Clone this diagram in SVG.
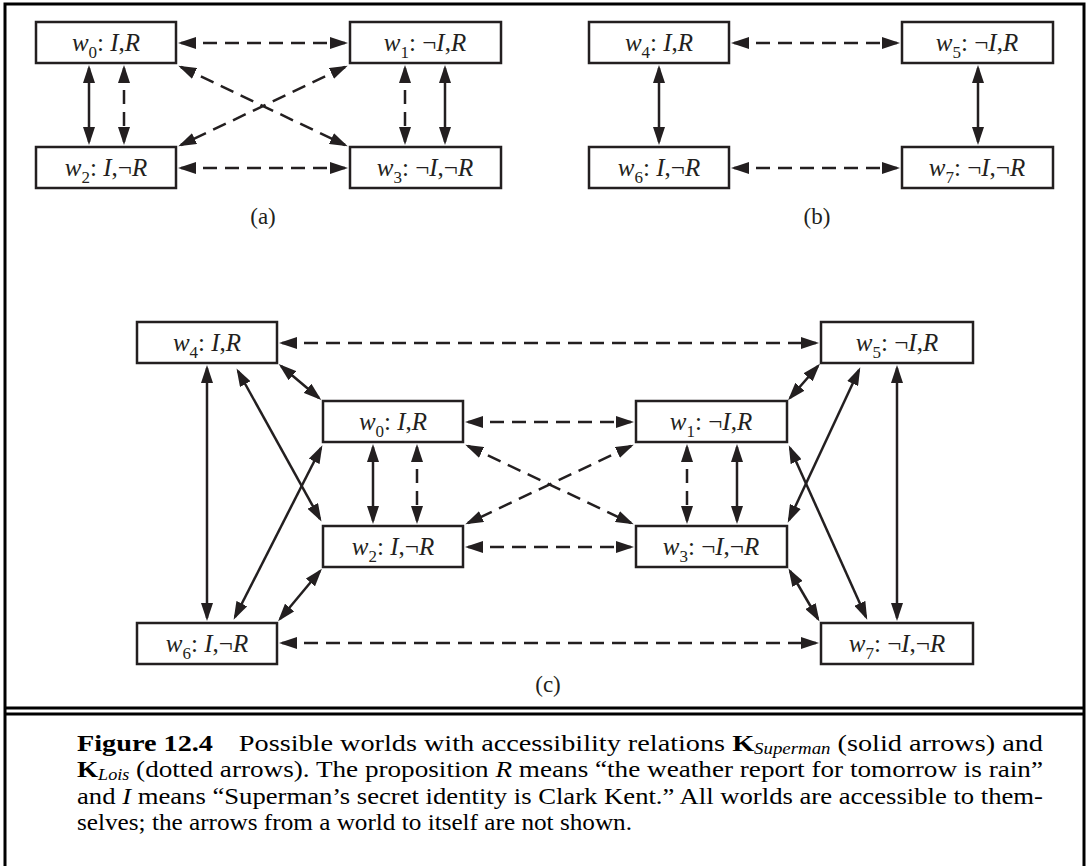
<svg xmlns="http://www.w3.org/2000/svg" width="1089" height="866" viewBox="0 0 1089 866">
<defs>
<marker id="ah" viewBox="0 0 18 12" markerUnits="userSpaceOnUse" markerWidth="18" markerHeight="12" refX="15" refY="6" orient="auto-start-reverse">
<path d="M0,0 L18,6 L0,12 z" fill="#231f20"/>
</marker>
<style>
.box{fill:#fff;stroke:#231f20;stroke-width:2.5}
.lbl{font-family:"Liberation Serif","Times New Roman",serif;font-size:25px;fill:#231f20;text-anchor:middle}
.it{font-style:italic}
.sub{font-size:17px}
.s{stroke:#231f20;stroke-width:2.5;fill:none;marker-start:url(#ah);marker-end:url(#ah)}
.d{stroke:#231f20;stroke-width:2.5;fill:none;stroke-dasharray:14 8;marker-start:url(#ah);marker-end:url(#ah)}
.cap{font-family:"Liberation Serif","Times New Roman",serif;font-size:24px;fill:#000}
.pl{font-family:"Liberation Serif","Times New Roman",serif;font-size:23px;fill:#231f20;text-anchor:middle}
.frame{fill:none;stroke:#000;stroke-width:3}
</style>
</defs>
<rect width="1089" height="866" fill="#fff"/>
<g id="frame">
<rect class="frame" x="5" y="4" width="1079" height="870"/>
<line class="frame" x1="5" y1="708" x2="1084" y2="708"/>
<line class="frame" x1="5" y1="714" x2="1084" y2="714"/>
</g>

<g id="connectors">
<!-- panel a -->
<line class="d" x1="181" y1="43" x2="345" y2="43"/>
<line class="d" x1="181" y1="168" x2="345" y2="168"/>
<line class="s" x1="89" y1="68" x2="89" y2="142"/>
<line class="d" x1="124" y1="68" x2="124" y2="142"/>
<line class="d" x1="405" y1="68" x2="405" y2="142"/>
<line class="s" x1="445" y1="68" x2="445" y2="142"/>
<line class="d" x1="181" y1="67" x2="345" y2="145"/>
<line class="d" x1="345" y1="67" x2="181" y2="145"/>
<!-- panel b -->
<line class="d" x1="734" y1="43" x2="897" y2="43"/>
<line class="d" x1="734" y1="168" x2="897" y2="168"/>
<line class="s" x1="659" y1="68" x2="659" y2="142"/>
<line class="s" x1="978" y1="68" x2="978" y2="142"/>
<!-- panel c -->
<line class="d" x1="282" y1="343" x2="816" y2="343"/>
<line class="d" x1="468" y1="422" x2="631" y2="422"/>
<line class="d" x1="468" y1="547" x2="631" y2="547"/>
<line class="d" x1="282" y1="643" x2="816" y2="643"/>
<line class="s" x1="207" y1="368" x2="207" y2="618"/>
<line class="s" x1="897" y1="368" x2="897" y2="618"/>
<line class="s" x1="373" y1="447" x2="373" y2="521"/>
<line class="d" x1="417" y1="447" x2="417" y2="521"/>
<line class="d" x1="687" y1="447" x2="687" y2="521"/>
<line class="s" x1="737" y1="447" x2="737" y2="521"/>
<line class="d" x1="468" y1="446" x2="631" y2="523"/>
<line class="d" x1="631" y1="446" x2="468" y2="523"/>
<line class="s" x1="281" y1="366" x2="319" y2="398"/>
<line class="s" x1="790" y1="398" x2="818" y2="366"/>
<line class="s" x1="320" y1="571" x2="280" y2="619"/>
<line class="s" x1="790" y1="571" x2="818" y2="619"/>
<line class="s" x1="238" y1="371" x2="320" y2="519"/>
<line class="s" x1="321" y1="448" x2="235" y2="617"/>
<line class="s" x1="859" y1="370" x2="789" y2="520"/>
<line class="s" x1="790" y1="448" x2="866" y2="617"/>
</g>

<g id="w0a"><rect class="box" x="36" y="22" width="140" height="41"/>
<text class="lbl" x="106" y="51"><tspan class="it">w</tspan><tspan class="sub" dy="7">0</tspan><tspan dy="-7">: </tspan><tspan class="it">I</tspan>,<tspan class="it">R</tspan></text></g>
<g id="w1a"><rect class="box" x="350" y="22" width="151" height="41"/>
<text class="lbl" x="425" y="51"><tspan class="it">w</tspan><tspan class="sub" dy="7">1</tspan><tspan dy="-7">: ¬</tspan><tspan class="it">I</tspan>,<tspan class="it">R</tspan></text></g>
<g id="w2a"><rect class="box" x="36" y="147" width="140" height="41"/>
<text class="lbl" x="106" y="176"><tspan class="it">w</tspan><tspan class="sub" dy="7">2</tspan><tspan dy="-7">: </tspan><tspan class="it">I</tspan>,¬<tspan class="it">R</tspan></text></g>
<g id="w3a"><rect class="box" x="350" y="147" width="151" height="41"/>
<text class="lbl" x="425" y="176"><tspan class="it">w</tspan><tspan class="sub" dy="7">3</tspan><tspan dy="-7">: ¬</tspan><tspan class="it">I</tspan>,¬<tspan class="it">R</tspan></text></g>
<text class="pl" x="263" y="224">(a)</text>

<g id="w4b"><rect class="box" x="589" y="22" width="140" height="41"/>
<text class="lbl" x="659" y="51"><tspan class="it">w</tspan><tspan class="sub" dy="7">4</tspan><tspan dy="-7">: </tspan><tspan class="it">I</tspan>,<tspan class="it">R</tspan></text></g>
<g id="w5b"><rect class="box" x="902" y="22" width="151" height="41"/>
<text class="lbl" x="977" y="51"><tspan class="it">w</tspan><tspan class="sub" dy="7">5</tspan><tspan dy="-7">: ¬</tspan><tspan class="it">I</tspan>,<tspan class="it">R</tspan></text></g>
<g id="w6b"><rect class="box" x="589" y="147" width="140" height="41"/>
<text class="lbl" x="659" y="176"><tspan class="it">w</tspan><tspan class="sub" dy="7">6</tspan><tspan dy="-7">: </tspan><tspan class="it">I</tspan>,¬<tspan class="it">R</tspan></text></g>
<g id="w7b"><rect class="box" x="902" y="147" width="151" height="41"/>
<text class="lbl" x="977" y="176"><tspan class="it">w</tspan><tspan class="sub" dy="7">7</tspan><tspan dy="-7">: ¬</tspan><tspan class="it">I</tspan>,¬<tspan class="it">R</tspan></text></g>
<text class="pl" x="817" y="224">(b)</text>

<g id="w4c"><rect class="box" x="137" y="322" width="140" height="41"/>
<text class="lbl" x="207" y="351"><tspan class="it">w</tspan><tspan class="sub" dy="7">4</tspan><tspan dy="-7">: </tspan><tspan class="it">I</tspan>,<tspan class="it">R</tspan></text></g>
<g id="w5c"><rect class="box" x="821" y="322" width="152" height="41"/>
<text class="lbl" x="897" y="351"><tspan class="it">w</tspan><tspan class="sub" dy="7">5</tspan><tspan dy="-7">: ¬</tspan><tspan class="it">I</tspan>,<tspan class="it">R</tspan></text></g>
<g id="w0c"><rect class="box" x="323" y="401" width="140" height="41"/>
<text class="lbl" x="393" y="430"><tspan class="it">w</tspan><tspan class="sub" dy="7">0</tspan><tspan dy="-7">: </tspan><tspan class="it">I</tspan>,<tspan class="it">R</tspan></text></g>
<g id="w1c"><rect class="box" x="636" y="401" width="151" height="41"/>
<text class="lbl" x="711" y="430"><tspan class="it">w</tspan><tspan class="sub" dy="7">1</tspan><tspan dy="-7">: ¬</tspan><tspan class="it">I</tspan>,<tspan class="it">R</tspan></text></g>
<g id="w2c"><rect class="box" x="323" y="526" width="140" height="41"/>
<text class="lbl" x="393" y="555"><tspan class="it">w</tspan><tspan class="sub" dy="7">2</tspan><tspan dy="-7">: </tspan><tspan class="it">I</tspan>,¬<tspan class="it">R</tspan></text></g>
<g id="w3c"><rect class="box" x="636" y="526" width="151" height="41"/>
<text class="lbl" x="711" y="555"><tspan class="it">w</tspan><tspan class="sub" dy="7">3</tspan><tspan dy="-7">: ¬</tspan><tspan class="it">I</tspan>,¬<tspan class="it">R</tspan></text></g>
<g id="w6c"><rect class="box" x="137" y="623" width="140" height="41"/>
<text class="lbl" x="207" y="652"><tspan class="it">w</tspan><tspan class="sub" dy="7">6</tspan><tspan dy="-7">: </tspan><tspan class="it">I</tspan>,¬<tspan class="it">R</tspan></text></g>
<g id="w7c"><rect class="box" x="821" y="623" width="152" height="41"/>
<text class="lbl" x="897" y="652"><tspan class="it">w</tspan><tspan class="sub" dy="7">7</tspan><tspan dy="-7">: ¬</tspan><tspan class="it">I</tspan>,¬<tspan class="it">R</tspan></text></g>
<text class="pl" x="548" y="692">(c)</text>

<g id="caption">
<text class="cap" x="77" y="751" textLength="966" lengthAdjust="spacingAndGlyphs"><tspan font-weight="bold">Figure 12.4</tspan><tspan dx="22">Possible worlds with accessibility relations </tspan><tspan font-weight="bold">K</tspan><tspan class="it" font-size="16" dy="3">Superman</tspan><tspan dy="-3"> (solid arrows) and</tspan></text>
<text class="cap" x="77" y="777" textLength="966" lengthAdjust="spacingAndGlyphs"><tspan font-weight="bold">K</tspan><tspan class="it" font-size="16" dy="3">Lois</tspan><tspan dy="-3"> (dotted arrows). The proposition </tspan><tspan class="it">R</tspan> means “the weather report for tomorrow is rain”</text>
<text class="cap" x="77" y="804" textLength="966" lengthAdjust="spacingAndGlyphs">and <tspan class="it">I</tspan> means “Superman’s secret identity is Clark Kent.” All worlds are accessible to them-</text>
<text class="cap" x="77" y="830" textLength="555" lengthAdjust="spacingAndGlyphs">selves; the arrows from a world to itself are not shown.</text>
</g>
</svg>
